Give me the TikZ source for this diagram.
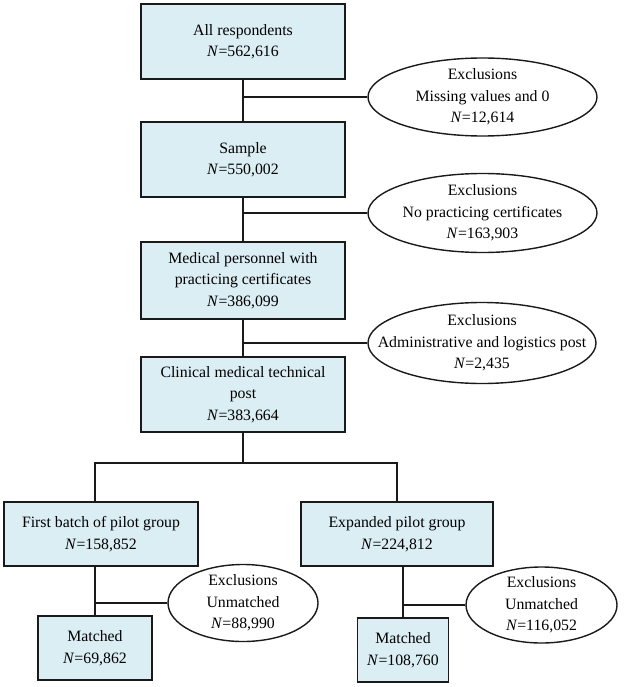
\documentclass[tikz,border=0pt]{standalone}
\usepackage{fontspec}
\setmainfont{Liberation Serif}
\usetikzlibrary{shapes.geometric}
\definecolor{boxfill}{HTML}{DAEEF3}
\definecolor{edge}{HTML}{1A1A1A}
\tikzset{
  stepbox/.style={draw=edge, line width=1.5pt, fill=boxfill, rectangle, align=center,
    inner sep=2pt, font=\fontsize{15.8}{21.5}\selectfont},
  exclbox/.style={draw=edge, line width=1.4pt, fill=white, ellipse, align=center,
    inner xsep=-45pt, inner ysep=-15pt, font=\fontsize{15.8}{21.5}\selectfont},
  link/.style={draw=edge, line width=1.5pt}
}
\newcommand{\NN}{\textit{N}=}
\begin{document}
\begin{tikzpicture}[x=1pt,y=-1pt]
\useasboundingbox (0,0) rectangle (624,687);
% main boxes
\node[stepbox, minimum width=204pt, minimum height=75pt] (b1) at (243,41.5) {All respondents\\\NN562,616};
\node[stepbox, minimum width=204pt, minimum height=75pt] (b2) at (243,159.5) {Sample\\\NN550,002};
\node[stepbox, minimum width=204pt, minimum height=77pt] (b3) at (243,280.5) {Medical personnel with\\practicing certificates\\\NN386,099};
\node[stepbox, minimum width=204pt, minimum height=75pt] (b4) at (243,394.5) {Clinical medical technical\\post\\\NN383,664};
\node[stepbox, minimum width=194pt, minimum height=64pt] (b5) at (101,534) {First batch of pilot group\\\NN158,852};
\node[stepbox, minimum width=192pt, minimum height=64pt] (b6) at (397,534) {Expanded pilot group\\\NN224,812};
\node[stepbox, minimum width=114pt, minimum height=64pt] (b7) at (95,648) {Matched\\\NN69,862};
\node[stepbox, minimum width=91pt, minimum height=64pt] (b8) at (403,650) {Matched\\\NN108,760};
% exclusions
\node[exclbox, minimum width=229pt, minimum height=78pt] (e1) at (482.5,97) {Exclusions\\Missing values and 0\\\NN12,614};
\node[exclbox, minimum width=229pt, minimum height=79pt] (e2) at (482.5,213) {Exclusions\\No practicing certificates\\\NN163,903};
\node[exclbox, minimum width=228pt, minimum height=81pt] (e3) at (482,343) {Exclusions\\Administrative and logistics post\\\NN2,435};
\node[exclbox, minimum width=150pt, minimum height=77pt] (e4) at (243,603) {Exclusions\\Unmatched\\\NN88,990};
\node[exclbox, minimum width=151pt, minimum height=76pt] (e5) at (541.5,605) {Exclusions\\Unmatched\\\NN116,052};
% connectors
\coordinate (br) at (243,463);
\draw[link] (b1) -- (b2);
\draw[link] (b2) -- (b3);
\draw[link] (b3) -- (b4);
\draw[link] (b4) -- (br);
\draw[link] (b7.north |- b5.north) |- (br) -| (b6.north);
\draw[link] (b7.north) -- (b7.north |- b5.south);
\draw[link] (b8.north) -- (b8.north |- b6.south);
\draw[link] (e1.west) -- (e1.west -| b1.south);
\draw[link] (e2.west) -- (e2.west -| b2.south);
\draw[link] (e3.west) -- (e3.west -| b3.south);
\draw[link] (e4.west) -- (e4.west -| b7.north);
\draw[link] (e5.west) -- (e5.west -| b8.north);
\end{tikzpicture}
\end{document}
